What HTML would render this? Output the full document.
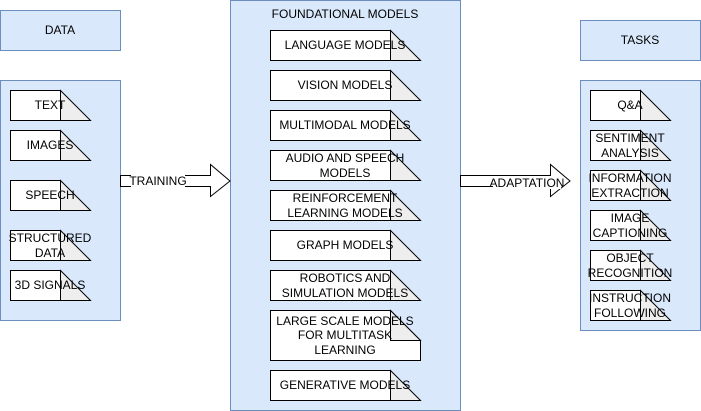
<!DOCTYPE html>
<html><head><meta charset="utf-8"><style>
html,body{margin:0;padding:0;background:#fff;}
svg{display:block;font-family:"Liberation Sans",Arial,sans-serif;font-size:12px;}
</style></head><body>
<svg width="701" height="411" viewBox="0 0 701 411" xmlns="http://www.w3.org/2000/svg">
<defs>
<g id="card">
<rect x="0" y="0" width="50" height="30" fill="#fff" stroke="#000"/>
<path d="M50 0 L80 30 L50 30 Z" fill="#eeeeee" stroke="#000"/>
</g>
<g id="mcard">
<rect x="0" y="0" width="120" height="30" fill="#fff" stroke="#000"/>
<path d="M120 0 L150 30 L120 30 Z" fill="#eeeeee" stroke="#000"/>
</g>
</defs>
<rect x="0.5" y="10.5" width="120" height="40" fill="#dae8fc" stroke="#6c8ebf"/>
<text x="60" y="34" text-anchor="middle">DATA</text>
<rect x="0.5" y="80.5" width="120" height="240" fill="#dae8fc" stroke="#6c8ebf"/>
<rect x="230.5" y="0.5" width="230" height="410" fill="#dae8fc" stroke="#6c8ebf"/>
<text x="345" y="18" text-anchor="middle">FOUNDATIONAL  MODELS</text>
<rect x="580.5" y="20.5" width="120" height="40" fill="#dae8fc" stroke="#6c8ebf"/>
<text x="640" y="44" text-anchor="middle">TASKS</text>
<rect x="580.5" y="80.5" width="120" height="250" fill="#dae8fc" stroke="#6c8ebf"/>

<path d="M120.5 175.5 H210.5 V164.5 L230 181 L210.5 196.5 V186.5 H120.5 Z" fill="#fff" stroke="#000"/>
<rect x="131" y="175" width="54" height="12" fill="#fff"/>
<text x="158" y="185" text-anchor="middle">TRAINING</text>
<path d="M460.5 175.5 H550.5 V164.5 L570 181 L550.5 196.5 V186.5 H460.5 Z" fill="#fff" stroke="#000"/>
<rect x="493" y="177" width="68" height="12" fill="#fff"/>
<text x="527" y="187" text-anchor="middle">ADAPTATION</text>

<use href="#card" x="10.5" y="90.5"/>
<text x="50" y="109" text-anchor="middle">TEXT</text>
<use href="#card" x="10.5" y="130.5"/>
<text x="50" y="149" text-anchor="middle">IMAGES</text>
<use href="#card" x="10.5" y="180.5"/>
<text x="50" y="199" text-anchor="middle">SPEECH</text>
<use href="#card" x="10.5" y="230.5"/>
<text x="50" y="242" text-anchor="middle">STRUCTURED</text>
<text x="50" y="257" text-anchor="middle">DATA</text>
<use href="#card" x="10.5" y="270.5"/>
<text x="50" y="289" text-anchor="middle">3D SIGNALS</text>

<use href="#mcard" x="270.5" y="30.5"/>
<text x="345" y="49" text-anchor="middle">LANGUAGE MODELS</text>
<use href="#mcard" x="270.5" y="70.5"/>
<text x="345" y="89" text-anchor="middle">VISION MODELS</text>
<use href="#mcard" x="270.5" y="110.5"/>
<text x="345" y="129" text-anchor="middle">MULTIMODAL MODELS</text>
<use href="#mcard" x="270.5" y="150.5"/>
<text x="345" y="162" text-anchor="middle">AUDIO AND SPEECH</text>
<text x="345" y="177" text-anchor="middle">MODELS</text>
<use href="#mcard" x="270.5" y="190.5"/>
<text x="345" y="202" text-anchor="middle">REINFORCEMENT</text>
<text x="345" y="217" text-anchor="middle">LEARNING MODELS</text>
<use href="#mcard" x="270.5" y="230.5"/>
<text x="345" y="249" text-anchor="middle">GRAPH MODELS</text>
<use href="#mcard" x="270.5" y="270.5"/>
<text x="345" y="282" text-anchor="middle">ROBOTICS AND</text>
<text x="345" y="297" text-anchor="middle">SIMULATION MODELS</text>
<path d="M270.5 310.5 H390.5 L420.5 340.5 V360.5 H270.5 Z" fill="#fff" stroke="#000"/>
<path d="M390.5 310.5 V340.5 H420.5 Z" fill="#eeeeee" stroke="#000"/>
<text x="345" y="325" text-anchor="middle">LARGE SCALE MODELS</text>
<text x="345" y="339" text-anchor="middle">FOR MULTITASK</text>
<text x="345" y="354" text-anchor="middle">LEARNING</text>
<use href="#mcard" x="270.5" y="370.5"/>
<text x="345" y="389" text-anchor="middle">GENERATIVE MODELS</text>

<use href="#card" x="590.5" y="90.5"/>
<text x="630" y="109" text-anchor="middle">Q&amp;A</text>
<use href="#card" x="590.5" y="130.5"/>
<text x="630" y="142" text-anchor="middle">SENTIMENT</text>
<text x="630" y="157" text-anchor="middle">ANALYSIS</text>
<use href="#card" x="590.5" y="170.5"/>
<text x="630" y="182" text-anchor="middle">INFORMATION</text>
<text x="630" y="197" text-anchor="middle">EXTRACTION</text>
<use href="#card" x="590.5" y="210.5"/>
<text x="630" y="222" text-anchor="middle">IMAGE</text>
<text x="630" y="237" text-anchor="middle">CAPTIONING</text>
<use href="#card" x="590.5" y="250.5"/>
<text x="630" y="262" text-anchor="middle">OBJECT</text>
<text x="630" y="277" text-anchor="middle">RECOGNITION</text>
<use href="#card" x="590.5" y="290.5"/>
<text x="630" y="302" text-anchor="middle">INSTRUCTION</text>
<text x="630" y="317" text-anchor="middle">FOLLOWING</text>
</svg>
</body></html>
